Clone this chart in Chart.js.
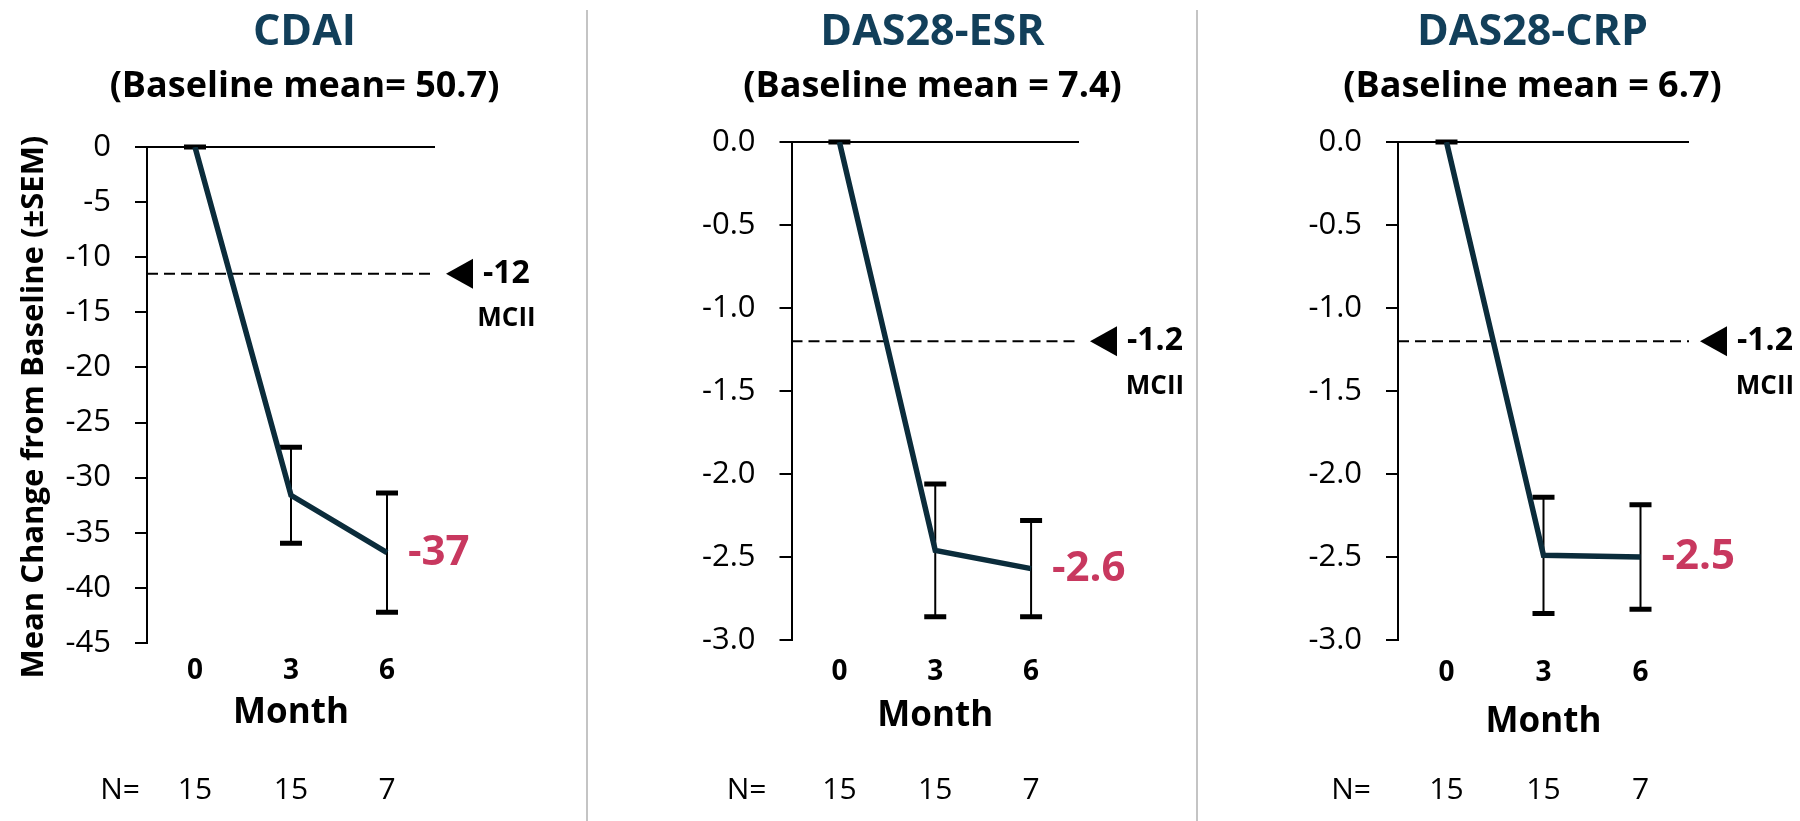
<!DOCTYPE html>
<html>
<head>
<meta charset="utf-8">
<script src="https://cdn.jsdelivr.net/npm/chart.js@4.4.1/dist/chart.umd.min.js"></script>
<style>
  html, body { margin: 0; padding: 0; background: #fff; }
  body { width: 1800px; height: 821px; position: relative; overflow: hidden; }
  canvas { position: absolute; top: 0; }
  .sep { position: absolute; top: 10px; bottom: 0; width: 2px; background: #c4c4c4; }
</style>
</head>
<body>
<canvas id="chart-cdai"></canvas>
<canvas id="chart-esr"></canvas>
<canvas id="chart-crp"></canvas>
<div class="sep" style="left:586px"></div>
<div class="sep" style="left:1196px"></div>
<script>
const months = ['0', '3', '6'];
const nPatients = [15, 15, 7];

const cdaiMean = [0, -31.6, -36.8];
const cdaiSem = [0, 4.35, 5.4];
const esrMean = [0, -2.46, -2.57];
const esrSem = [0, 0.40, 0.29];
const crpMean = [0, -2.49, -2.50];
const crpSem = [0, 0.35, 0.315];

const panelTitles = ['CDAI', 'DAS28-ESR', 'DAS28-CRP'];
const panelSubtitles = ['(Baseline mean= 50.7)', '(Baseline mean = 7.4)', '(Baseline mean = 6.7)'];
const yMin = [-45, -3, -3];
const yStep = [5, 0.5, 0.5];
const yDecimals = [0, 1, 1];
const mciiValues = [-11.5, -1.2, -1.2];
const mciiLabels = ['-12', '-1.2', '-1.2'];
const endLabels = ['-37', '-2.6', '-2.5'];

const NAVY = '#0b2c3b';
const TITLE_BLUE = '#123f5a';
const PINK = '#c8385f';
const FONT = "'Open Sans', Lato, sans-serif";
const H = 821;

// where each panel sits on the page (canvas is centred on its title)
const layouts = [
  { id: 'chart-cdai', left: 0, width: 609, axisW: 147, padRight: 174, top: 147, bottom: 643, tickPad: 11, monthPad: 86.5, nGap: 7, yTitle: true },
  { id: 'chart-esr', left: 660, width: 545, axisW: 131.5, padRight: 126, top: 142, bottom: 640, tickPad: 15, monthPad: 84, nGap: 25, yTitle: false },
  { id: 'chart-crp', left: 1265, width: 535, axisW: 133, padRight: 111, top: 142, bottom: 640, tickPad: 16, monthPad: 77.5, nGap: 27, yTitle: false }
];

Chart.defaults.font.family = FONT;
Chart.defaults.color = '#000';

function extras(i, means, sems, L) {
  return {
    id: 'extras' + i,
    beforeDatasetsDraw(chart) {
      const { ctx, chartArea: a, scales: { x, y } } = chart;
      ctx.save();
      // zero line (Excel's x axis crossing)
      ctx.strokeStyle = '#000';
      ctx.lineWidth = 2;
      ctx.beginPath();
      ctx.moveTo(a.left, y.getPixelForValue(0));
      ctx.lineTo(a.right, y.getPixelForValue(0));
      ctx.stroke();
      // MCII dashed line
      const my = y.getPixelForValue(mciiValues[i]);
      ctx.setLineDash([11, 6]);
      ctx.beginPath();
      ctx.moveTo(a.left, my);
      ctx.lineTo(a.right, my);
      ctx.stroke();
      ctx.setLineDash([]);
      // error bars
      means.forEach((m, j) => {
        const px = x.getPixelForValue(j);
        const top = y.getPixelForValue(m + sems[j]);
        const bot = y.getPixelForValue(m - sems[j]);
        ctx.lineWidth = 2;
        ctx.beginPath();
        ctx.moveTo(px, top);
        ctx.lineTo(px, bot);
        ctx.stroke();
        ctx.lineWidth = 5;
        ctx.beginPath();
        ctx.moveTo(px - 11, top); ctx.lineTo(px + 11, top);
        ctx.moveTo(px - 11, bot); ctx.lineTo(px + 11, bot);
        ctx.stroke();
      });
      ctx.restore();
    },
    afterDraw(chart) {
      const { ctx, chartArea: a, scales: { x, y } } = chart;
      ctx.save();
      // arrow + MCII label
      const my = y.getPixelForValue(mciiValues[i]);
      const tip = a.right + 11;
      ctx.fillStyle = '#000';
      ctx.beginPath();
      ctx.moveTo(tip, my);
      ctx.lineTo(tip + 27, my - 15);
      ctx.lineTo(tip + 27, my + 15);
      ctx.closePath();
      ctx.fill();
      ctx.textBaseline = 'middle';
      ctx.textAlign = 'left';
      ctx.font = 'bold 32px ' + FONT;
      ctx.fillText(mciiLabels[i], tip + 37, my);
      const w = ctx.measureText(mciiLabels[i]).width;
      ctx.textAlign = 'center';
      ctx.font = 'bold 26px ' + FONT;
      ctx.fillText('MCII', tip + 37 + w / 2, my + 45);
      // value at month 6
      const last = means.length - 1;
      ctx.textAlign = 'left';
      ctx.fillStyle = PINK;
      ctx.font = 'bold 42px ' + FONT;
      ctx.fillText(endLabels[i], x.getPixelForValue(last) + 21, y.getPixelForValue(means[last]));
      // N row
      ctx.fillStyle = '#000';
      ctx.font = '30px ' + FONT;
      ctx.textAlign = 'right';
      ctx.fillText('N=', a.left - L.nGap, 790);
      ctx.textAlign = 'center';
      nPatients.forEach((n, j) => ctx.fillText(String(n), x.getPixelForValue(j), 790));
      ctx.restore();
    }
  };
}

function buildPanel(i, means, sems) {
  const L = layouts[i];
  const canvas = document.getElementById(L.id);
  canvas.width = L.width;
  canvas.height = H;
  canvas.style.left = L.left + 'px';
  canvas.style.width = L.width + 'px';
  canvas.style.height = H + 'px';

  return new Chart(canvas, {
    type: 'line',
    data: {
      labels: months,
      datasets: [{
        data: means,
        yAxisID: 'y',
        borderColor: NAVY,
        borderWidth: 5.5,
        pointRadius: 0,
        tension: 0,
        fill: false
      }]
    },
    options: {
      responsive: false,
      animation: false,
      devicePixelRatio: 1,
      layout: { padding: 0 },
      plugins: {
        legend: { display: false },
        tooltip: { enabled: false },
        title: {
          display: true,
          text: panelTitles[i],
          color: TITLE_BLUE,
          font: { size: 43, weight: 'bold' },
          padding: { top: 7, bottom: 0 }
        },
        subtitle: {
          display: true,
          text: panelSubtitles[i],
          color: '#000',
          font: { size: 36, weight: 'bold' },
          padding: { top: 6.8, bottom: L.top - 108.6 }
        }
      },
      scales: {
        x: {
          type: 'category',
          offset: true,
          grid: { display: false, drawTicks: false },
          border: { display: false },
          ticks: { color: '#000', font: { size: 28, weight: 'bold' }, padding: L.tickPad, autoSkip: false, maxRotation: 0 },
          title: { display: true, text: 'Month', color: '#000', font: { size: 35, weight: 'bold' }, padding: { top: 0, bottom: L.monthPad } },
          afterFit: axis => { axis.height = H - L.bottom; }
        },
        y: {
          min: yMin[i],
          max: 0,
          border: { display: true, color: '#000', width: 2 },
          grid: { display: true, drawOnChartArea: false, drawTicks: true, tickLength: 12, color: '#000', lineWidth: 2 },
          ticks: {
            stepSize: yStep[i],
            color: '#000',
            font: { size: 31 },
            padding: 24,
            callback: v => Number(v).toFixed(yDecimals[i])
          },
          title: {
            display: L.yTitle,
            text: 'Mean Change from Baseline (±SEM)   ',
            color: '#000',
            font: { size: 31, weight: 'bold' },
            padding: { top: 15.4, bottom: 0 }
          },
          afterFit: axis => { axis.width = L.axisW; }
        },
        // empty box on the right that keeps room for the MCII arrow and labels
        spacer: {
          type: 'linear',
          position: 'right',
          grid: { display: false },
          border: { display: false },
          ticks: { display: false },
          afterFit: axis => { axis.width = L.padRight; }
        }
      }
    },
    plugins: [extras(i, means, sems, L)]
  });
}

buildPanel(0, cdaiMean, cdaiSem);
buildPanel(1, esrMean, esrSem);
buildPanel(2, crpMean, crpSem);
</script>
</body>
</html>
